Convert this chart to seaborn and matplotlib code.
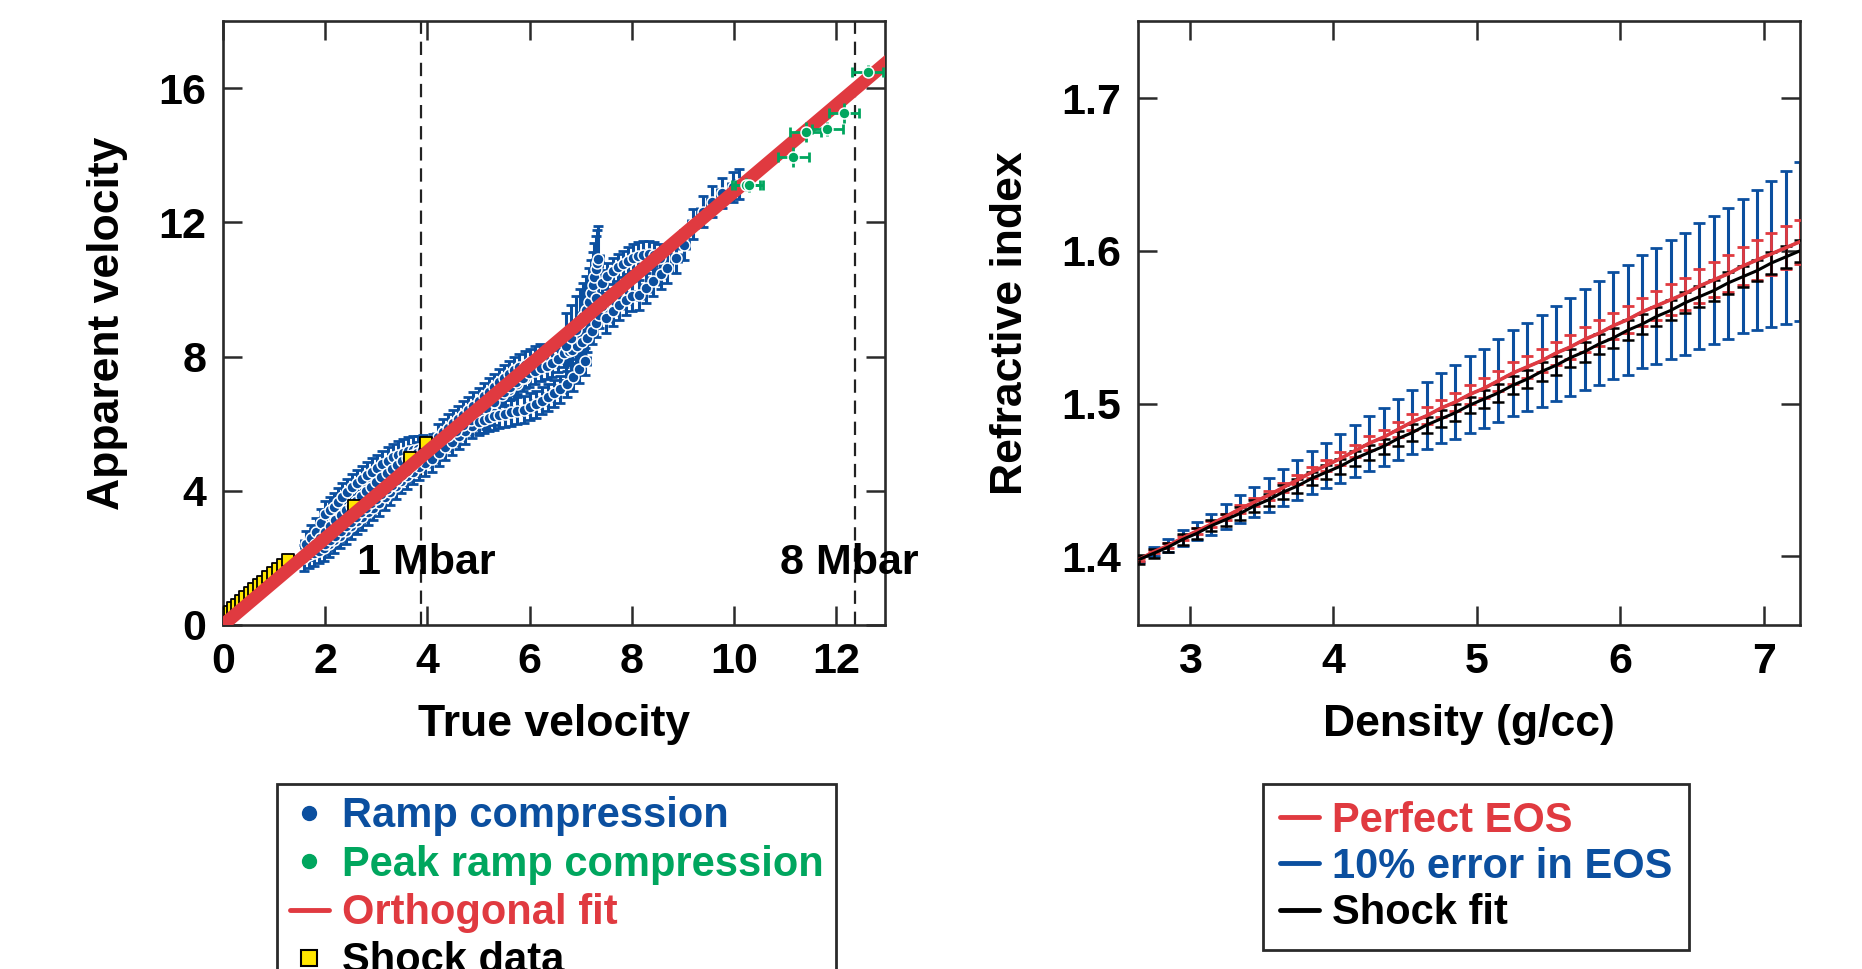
import numpy as np
import matplotlib
matplotlib.use("Agg")
import matplotlib.pyplot as plt
from matplotlib import font_manager
from matplotlib.lines import Line2D
import seaborn as sns

# ---------------- data: left panel ----------------
ramp_x_1 = [1.62,1.72,1.81,1.91,2.00,2.09,2.17,2.25,2.33,2.42,2.52,2.62,2.72,2.82,2.92,3.02,3.12,3.22,3.32,3.42,3.52,3.62,3.72,3.82,3.92]
ramp_y_1 = [2.40,2.58,2.78,3.05,3.30,3.42,3.53,3.67,3.82,3.96,4.10,4.22,4.34,4.46,4.57,4.68,4.79,4.90,5.00,5.08,5.14,5.19,5.22,5.24,5.26]
ramp_x_2 = [1.70,1.80,1.90,2.00,2.10,2.20,2.30,2.40,2.50,2.60,2.70,2.80,2.90,3.00,3.10,3.20,3.30,3.40,3.50,3.60,3.70,3.80,3.90,4.00,4.10]
ramp_y_2 = [2.25,2.42,2.60,2.78,2.96,3.12,3.28,3.42,3.56,3.70,3.84,3.98,4.12,4.26,4.40,4.54,4.66,4.78,4.88,4.98,5.06,5.14,5.22,5.30,5.38]
ramp_x_3 = [1.58,1.68,1.78,1.88,1.98,2.08,2.18,2.29,2.40,2.51,2.62,2.72,2.83,2.94,3.05,3.16,3.27,3.38,3.49,3.60,3.71,3.83,3.95,4.08,4.22,4.35,4.48,4.61,4.74,4.87,5.00,5.15,5.30]
ramp_y_3 = [2.00,2.08,2.15,2.22,2.30,2.40,2.52,2.66,2.80,2.95,3.09,3.22,3.36,3.50,3.64,3.80,3.97,4.14,4.30,4.44,4.57,4.70,4.82,4.95,5.12,5.30,5.45,5.62,5.78,5.94,6.10,6.22,6.33]
ramp_x_4 = [2.00,2.10,2.20,2.30,2.40,2.50,2.60,2.70,2.80,2.90,3.00,3.10,3.20,3.30,3.40,3.50,3.60,3.70,3.80]
ramp_y_4 = [2.42,2.54,2.66,2.80,2.94,3.08,3.22,3.36,3.50,3.63,3.76,3.90,4.04,4.18,4.32,4.46,4.60,4.74,4.88]
ramp_x_5 = [4.20,4.30,4.40,4.50,4.60,4.70,4.80,4.90,5.00,5.10,5.20,5.30,5.40,5.50,5.60,5.70,5.80,5.90,6.00,6.10,6.20]
ramp_y_5 = [5.60,5.74,5.88,6.01,6.14,6.27,6.40,6.53,6.67,6.81,6.95,7.09,7.23,7.36,7.48,7.59,7.68,7.76,7.83,7.90,7.98]
ramp_x_6 = [4.40,4.55,4.70,4.85,5.00,5.15,5.30,5.45,5.60,5.75,5.90]
ramp_y_6 = [5.62,5.77,5.95,6.12,6.28,6.47,6.66,6.84,7.01,7.18,7.37]
ramp_x_7 = [5.00,5.10,5.20,5.30,5.40,5.52,5.64,5.76,5.88,6.00,6.12,6.24,6.36,6.48,6.60,6.72,6.84,6.96,7.08]
ramp_y_7 = [6.05,6.12,6.18,6.22,6.26,6.30,6.34,6.38,6.42,6.50,6.58,6.68,6.78,6.90,7.02,7.18,7.38,7.62,7.86]
ramp_x_8 = [5.50,5.62,5.74,5.86,5.99,6.10,6.22,6.33,6.44,6.55,6.67,6.76,6.83,6.93,7.03,7.13,7.21,7.29,7.36,7.42]
ramp_y_8 = [6.95,7.10,7.24,7.37,7.50,7.58,7.66,7.73,7.80,7.94,8.10,8.16,8.20,8.32,8.44,8.55,8.76,8.99,9.25,9.50]
ramp_x_9 = [6.70,6.80,6.90,6.98,7.05,7.10,7.15,7.19,7.23,7.26,7.29,7.32,7.34]
ramp_y_9 = [8.30,8.55,8.79,9.00,9.20,9.39,9.63,9.89,10.12,10.38,10.60,10.78,10.90]
ramp_x_10 = [7.30,7.42,7.52,7.62,7.72,7.82,7.92,8.02,8.12,8.22,8.33,8.44,8.55]
ramp_y_10 = [9.75,10.18,10.40,10.55,10.66,10.76,10.86,10.94,11.00,11.03,11.05,11.02,10.95]
ramp_x_11 = [7.50,7.62,7.75,7.88,8.00,8.14,8.28,8.42,8.56,8.69,8.86,9.02]
ramp_y_11 = [9.15,9.35,9.55,9.70,9.80,9.84,10.05,10.25,10.45,10.63,10.95,11.33]
ramp_x_12 = [9.20,9.38,9.57,9.77,9.97,10.10]
ramp_y_12 = [11.95,12.32,12.62,12.87,13.06,13.15]
ramp_yerr = [0.40, 0.30, 0.38, 0.30, 0.40, 0.30, 0.40, 0.40, 1.00, 0.40, 0.45, 0.45]
ramp_xerr = 0.10

peak_x = [10.23, 10.29, 11.16, 11.40, 11.82, 12.15, 12.61]
peak_y = [13.12, 13.10, 13.94, 14.68, 14.78, 15.25, 16.49]
peak_xerr = [0.28, 0.28, 0.30, 0.30, 0.30, 0.30, 0.30]
peak_yerr = [0.20, 0.20, 0.30, 0.30, 0.20, 0.30, 0.20]

shock_x = [0.06,0.13,0.20,0.28,0.36,0.44,0.53,0.61,0.70,0.78,0.88,0.98,1.08,1.18,1.28,2.57,3.65,3.97]
shock_y = [0.30,0.40,0.50,0.60,0.72,0.83,0.95,1.06,1.18,1.29,1.42,1.55,1.68,1.80,1.95,3.55,4.98,5.42]

fit_x = [0.0, 13.2]
fit_y = [0.0, 17.05]

mbar_x = [3.87, 12.36]
mbar_labels = ["1 Mbar", "8 Mbar"]
mbar_text_x = [3.98, 12.25]

# ---------------- data: right panel ----------------
dens = [2.65,2.75,2.85,2.95,3.05,3.15,3.25,3.35,3.45,3.55,3.65,3.75,3.85,3.95,4.05,4.15,4.25,4.35,4.45,4.55,
        4.65,4.75,4.85,4.95,5.05,5.15,5.25,5.35,5.45,5.55,5.65,5.75,5.85,5.95,6.05,6.15,6.25,6.35,6.45,6.55,
        6.65,6.75,6.85,6.95,7.05,7.15,7.25]
n_perfect = [1.398,1.403,1.407,1.412,1.4165,1.421,1.426,1.431,1.4355,1.440,1.445,1.450,1.455,1.4595,1.464,1.469,
             1.474,1.478,1.483,1.488,1.492,1.497,1.501,1.506,1.510,1.515,1.520,1.524,1.528,1.533,1.537,1.542,
             1.546,1.551,1.555,1.560,1.564,1.568,1.572,1.577,1.581,1.585,1.590,1.594,1.598,1.602,1.606]
n_shock = [1.398,1.402,1.406,1.411,1.415,1.420,1.424,1.428,1.433,1.437,1.442,1.446,1.451,1.455,1.459,1.464,
           1.468,1.472,1.477,1.481,1.486,1.490,1.494,1.499,1.503,1.507,1.512,1.516,1.521,1.525,1.530,1.534,
           1.539,1.543,1.548,1.552,1.557,1.561,1.566,1.570,1.574,1.579,1.583,1.587,1.592,1.596,1.600]
err_10pct = [0.002,0.003,0.004,0.005,0.006,0.007,0.008,0.009,0.010,0.011,0.012,0.013,0.014,0.015,0.016,0.017,
             0.018,0.019,0.020,0.021,0.022,0.023,0.024,0.025,0.026,0.027,0.028,0.029,0.030,0.031,0.032,0.033,
             0.034,0.035,0.036,0.037,0.038,0.039,0.040,0.041,0.042,0.043,0.044,0.046,0.048,0.050,0.052]
err_perfect = [0.001,0.001,0.0015,0.0015,0.002,0.002,0.002,0.0025,0.0025,0.003,0.003,0.003,0.0035,0.0035,0.004,0.004,
               0.0045,0.0045,0.005,0.005,0.0055,0.0055,0.006,0.006,0.0065,0.0065,0.007,0.007,0.0075,0.0075,0.008,0.008,
               0.0085,0.0085,0.009,0.009,0.0095,0.010,0.0105,0.011,0.0115,0.012,0.0125,0.013,0.0135,0.014,0.0145]
err_shock = [0.003,0.003,0.003,0.0035,0.0035,0.0035,0.004,0.004,0.004,0.004,0.0045,0.0045,0.0045,0.0045,0.005,0.005,
             0.005,0.005,0.005,0.0055,0.0055,0.0055,0.0055,0.0055,0.006,0.006,0.006,0.006,0.006,0.006,0.006,0.0065,
             0.0065,0.0065,0.0065,0.0065,0.0065,0.0065,0.007,0.007,0.007,0.007,0.007,0.007,0.007,0.007,0.007]

# ---------------- style ----------------
BLUE = "#0b4f9f"
GREEN = "#00a65e"
RED = "#e03a40"
YELLOW = "#ffe600"
SPINE = "#2a2a2a"

sns.set_theme(style="white")
plt.rcParams["font.family"] = ["Liberation Sans", "DejaVu Sans"]
plt.rcParams["font.weight"] = "bold"
plt.rcParams["axes.labelweight"] = "bold"
plt.rcParams["text.color"] = "black"
plt.rcParams["axes.labelcolor"] = "black"
plt.rcParams["xtick.color"] = "black"
plt.rcParams["ytick.color"] = "black"

names = {f.name for f in font_manager.fontManager.ttflist}
if "Liberation Sans Narrow" in names:
    tick_fp = font_manager.FontProperties(family=["Liberation Sans Narrow", "Liberation Sans"], weight="bold", size=33)
else:
    tick_fp = font_manager.FontProperties(family=["Liberation Sans", "DejaVu Sans"], weight="bold", size=31)

fig = plt.figure(figsize=(18.62, 9.69), dpi=100)
W, H = 1862.0, 969.0
ax1 = fig.add_axes([223 / W, 1 - 625 / H, 662 / W, 604 / H])
ax2 = fig.add_axes([1138 / W, 1 - 625 / H, 662 / W, 604 / H])

def style_axes(ax):
    for s in ax.spines.values():
        s.set_color(SPINE)
        s.set_linewidth(1.9)
        s.set_visible(True)
    ax.tick_params(direction="in", length=14, width=1.8, color=SPINE, labelcolor="black",
                   top=True, right=True, bottom=True, left=True, pad=12)
    ax.grid(False)
    ax.set_facecolor("white")

# ---------------- left panel ----------------
traces = [(ramp_x_1, ramp_y_1), (ramp_x_2, ramp_y_2), (ramp_x_3, ramp_y_3), (ramp_x_4, ramp_y_4),
          (ramp_x_5, ramp_y_5), (ramp_x_6, ramp_y_6), (ramp_x_7, ramp_y_7), (ramp_x_8, ramp_y_8),
          (ramp_x_9, ramp_y_9), (ramp_x_10, ramp_y_10), (ramp_x_11, ramp_y_11), (ramp_x_12, ramp_y_12)]

for xv in mbar_x:
    ax1.axvline(xv, color="#222222", lw=1.6, ls=(0, (6, 3.5)), zorder=1)

for (tx, ty), ye in zip(traces, ramp_yerr):
    ax1.errorbar(tx, ty, yerr=ye, xerr=ramp_xerr, fmt="none", ecolor=BLUE,
                 elinewidth=2.2, capsize=3.5, capthick=2.0, zorder=2)
for tx, ty in traces:
    sns.scatterplot(x=tx, y=ty, ax=ax1, s=62, color=BLUE, edgecolor="white",
                    linewidth=1.1, zorder=3, legend=False)

sns.scatterplot(x=shock_x, y=shock_y, ax=ax1, marker="s", s=80, color=YELLOW,
                edgecolor="black", linewidth=1.3, zorder=4, legend=False)

sns.lineplot(x=fit_x, y=fit_y, ax=ax1, color=RED, lw=9.5, zorder=5, legend=False)

ax1.errorbar(peak_x, peak_y, xerr=peak_xerr, fmt="none", ecolor=GREEN, elinewidth=2.0,
             capsize=3.5, capthick=2.0, zorder=6)
ax1.errorbar(peak_x, peak_y, yerr=peak_yerr, fmt="none", ecolor=GREEN, elinewidth=2.0,
             capsize=0, zorder=6)
sns.scatterplot(x=peak_x, y=peak_y, ax=ax1, s=62, color=GREEN, edgecolor="white",
                linewidth=1.1, zorder=7, legend=False)

for tx, lab in zip(mbar_text_x, mbar_labels):
    ax1.text(tx, 1.85, lab, ha="center", va="center", fontsize=31, fontweight="bold",
             color="black", zorder=8, clip_on=False)

ax1.set_xlim(0, 12.95)
ax1.set_ylim(0, 18)
ax1.set_xticks([0, 2, 4, 6, 8, 10, 12])
ax1.set_yticks([0, 4, 8, 12, 16])
style_axes(ax1)
for lab in ax1.get_xticklabels() + ax1.get_yticklabels():
    lab.set_fontproperties(tick_fp)
ax1.set_xlabel("True velocity", fontsize=32, fontweight="bold", labelpad=16)
ax1.set_ylabel("Apparent velocity", fontsize=32, fontweight="bold", labelpad=22)

# ---------------- right panel ----------------
ax2.errorbar(dens, n_perfect, yerr=err_10pct, fmt="none", ecolor=BLUE, elinewidth=2.2,
             capsize=4.5, capthick=2.0, zorder=2)
sns.lineplot(x=dens, y=n_perfect, ax=ax2, color=BLUE, lw=2.0, zorder=2, legend=False)
ax2.errorbar(dens, n_perfect, yerr=err_perfect, fmt="none", ecolor=RED, elinewidth=2.0,
             capsize=4, capthick=2.0, zorder=3)
ax2.errorbar(dens, n_shock, yerr=err_shock, fmt="none", ecolor="black", elinewidth=1.8,
             capsize=4, capthick=1.8, zorder=4)
sns.lineplot(x=dens, y=n_perfect, ax=ax2, color=RED, lw=2.6, zorder=5, legend=False)
sns.lineplot(x=dens, y=n_shock, ax=ax2, color="black", lw=2.2, zorder=6, legend=False)

ax2.set_xlim(2.64, 7.25)
ax2.set_ylim(1.355, 1.7505)
ax2.set_xticks([3, 4, 5, 6, 7])
ax2.set_yticks([1.4, 1.5, 1.6, 1.7])
ax2.set_yticklabels(["1.4", "1.5", "1.6", "1.7"])
style_axes(ax2)
for lab in ax2.get_xticklabels() + ax2.get_yticklabels():
    lab.set_fontproperties(tick_fp)
ax2.set_xlabel("Density (g/cc)", fontsize=32, fontweight="bold", labelpad=16)
ax2.set_ylabel("Refractive index", fontsize=32, fontweight="bold", labelpad=22)

# ---------------- legends ----------------
h_left = [
    Line2D([], [], ls="none", marker="o", ms=10, color=BLUE, mec=BLUE),
    Line2D([], [], ls="none", marker="o", ms=10, color=GREEN, mec=GREEN),
    Line2D([], [], color=RED, lw=3.5),
    Line2D([], [], ls="none", marker="s", ms=11, mfc=YELLOW, mec="black", mew=1.5),
]
lab_left = ["Ramp compression", "Peak ramp compression", "Orthogonal fit", "Shock data"]
leg1 = fig.legend(h_left, lab_left, loc="upper left", bbox_to_anchor=(277 / W, 1 - 784 / H),
                  bbox_transform=fig.transFigure, frameon=True, fancybox=False,
                  framealpha=1, edgecolor=SPINE, handlelength=0.95, handletextpad=0.3,
                  labelspacing=0.2, borderpad=0.3, borderaxespad=0,
                  prop={"weight": "bold", "size": 30})
leg1.get_frame().set_linewidth(2.0)
for t, c in zip(leg1.get_texts(), [BLUE, GREEN, RED, "black"]):
    t.set_color(c)

h_right = [Line2D([], [], color=RED, lw=3.5), Line2D([], [], color=BLUE, lw=3.5),
           Line2D([], [], color="black", lw=3.5)]
lab_right = ["Perfect EOS", "10% error in EOS", "Shock fit"]
leg2 = fig.legend(h_right, lab_right, loc="upper left", bbox_to_anchor=(1263 / W, 1 - 784 / H),
                  bbox_transform=fig.transFigure, frameon=True, fancybox=False,
                  framealpha=1, edgecolor=SPINE, handlelength=0.95, handletextpad=0.3,
                  labelspacing=0.15, borderpad=0.4, borderaxespad=0,
                  prop={"weight": "bold", "size": 30})
leg2.get_frame().set_linewidth(2.0)
for t, c in zip(leg2.get_texts(), [RED, BLUE, "black"]):
    t.set_color(c)

fig.savefig("out.png", dpi=100)
